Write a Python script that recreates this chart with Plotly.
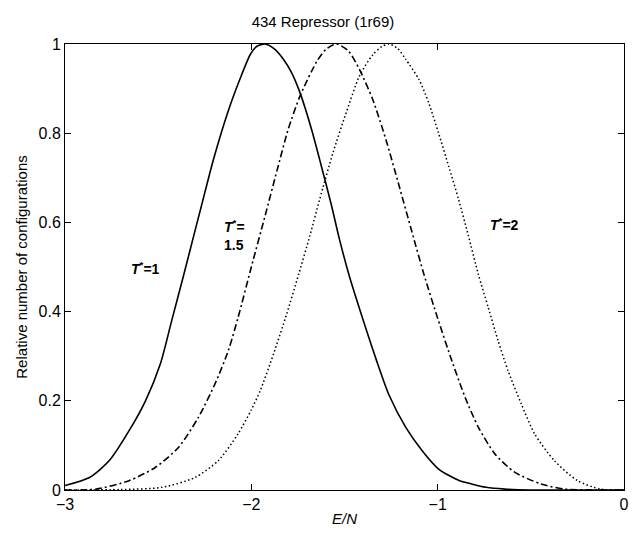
import plotly.graph_objects as go

# Energy per residue (E/N) sample positions and relative counts, one set per temperature
x_t1 = [-3.0, -2.869, -2.762, -2.656, -2.568, -2.488, -2.426, -2.363, -2.30, -2.266, -2.204,
        -2.124, -2.053, -2.005, -1.97, -1.926, -1.88, -1.828, -1.784, -1.739, -1.677, -1.624,
        -1.571, -1.527, -1.473, -1.403, -1.331, -1.261, -1.172, -1.083, -0.995, -0.888,
        -0.818, -0.74, -0.64, -0.5, -0.25, 0.0]
y_t1 = [0.010, 0.028, 0.066, 0.133, 0.200, 0.283, 0.382, 0.482, 0.585, 0.640, 0.740,
        0.850, 0.930, 0.977, 0.995, 1.0, 0.990, 0.966, 0.936, 0.891, 0.809, 0.726,
        0.640, 0.562, 0.478, 0.385, 0.294, 0.213, 0.141, 0.088, 0.047, 0.022,
        0.0135, 0.006, 0.002, 0.0, 0.0, 0.0]

x_t15 = [-3.0, -2.833, -2.656, -2.514, -2.390, -2.284, -2.195, -2.124, -2.071, -2.0,
         -1.926, -1.863, -1.802, -1.739, -1.65, -1.6, -1.544, -1.48, -1.42, -1.349, -1.278,
         -1.207, -1.137, -1.074, -1.0, -0.924, -0.853, -0.782, -0.693, -0.587, -0.445,
         -0.321, -0.15, 0.0]
y_t15 = [0.0, 0.002, 0.021, 0.051, 0.096, 0.163, 0.238, 0.312, 0.387, 0.500,
         0.615, 0.715, 0.809, 0.883, 0.960, 0.988, 1.0, 0.985, 0.943, 0.876, 0.786,
         0.682, 0.577, 0.484, 0.385, 0.290, 0.208, 0.141, 0.081, 0.040, 0.0135,
         0.002, 0.0, 0.0]

x_t2 = [-3.0, -2.7, -2.479, -2.302, -2.177, -2.071, -2.0, -1.952, -1.881, -1.810, -1.745,
        -1.686, -1.633, -1.562, -1.491, -1.420, -1.35, -1.30, -1.261, -1.215, -1.172, -1.101,
        -1.048, -0.995, -0.941, -0.888, -0.835, -0.782, -0.729, -0.676, -0.622, -0.551,
        -0.480, -0.374, -0.250, -0.126, 0.0]
y_t2 = [0.0, 0.001, 0.006, 0.028, 0.066, 0.126, 0.180, 0.223, 0.305, 0.395, 0.485,
        0.570, 0.652, 0.756, 0.846, 0.928, 0.975, 0.994, 1.0, 0.990, 0.966, 0.921,
        0.868, 0.800, 0.726, 0.652, 0.570, 0.484, 0.410, 0.335, 0.267, 0.193,
        0.126, 0.066, 0.021, 0.002, 0.0]

x_ticks = [-3, -2, -1, 0]
x_labels = ["−3", "−2", "−1", "0"]
y_ticks = [0, 0.2, 0.4, 0.6, 0.8, 1]
y_labels = ["0", "0.2", "0.4", "0.6", "0.8", "1"]

FONT = "Liberation Sans, Arial, sans-serif"

fig = go.Figure()
fig.add_trace(go.Scatter(x=x_t1, y=y_t1, mode="lines",
                         line=dict(color="black", width=1.6, dash="solid",
                                   shape="spline", smoothing=0.7)))
fig.add_trace(go.Scatter(x=x_t15, y=y_t15, mode="lines",
                         line=dict(color="black", width=1.6, dash="7px,3px,2px,3px",
                                   shape="spline", smoothing=0.7)))
fig.add_trace(go.Scatter(x=x_t2, y=y_t2, mode="lines",
                         line=dict(color="black", width=1.5, dash="1.5px,2.5px",
                                   shape="spline", smoothing=0.7)))

ann_font = dict(family=FONT, size=14, color="black")
annotations = [
    dict(x=-2.569, y=0.498, text="<b><i>T</i><sup>*</sup>=1</b>", showarrow=False,
         font=ann_font, xanchor="center", yanchor="middle"),
    dict(x=-2.16, y=0.571, text="<b><i>T</i><sup>*</sup>=<br>1.5</b>", showarrow=False,
         font=ann_font, xanchor="left", yanchor="middle", align="left"),
    dict(x=-0.64, y=0.596, text="<b><i>T</i><sup>*</sup>=2</b>", showarrow=False,
         font=ann_font, xanchor="center", yanchor="middle"),
]

axis_common = dict(showline=True, linecolor="black", linewidth=1, mirror="ticks",
                   ticks="inside", ticklen=6, tickcolor="black", tickwidth=1,
                   showgrid=False, zeroline=False,
                   tickfont=dict(family=FONT, size=16, color="black"))

fig.update_layout(
    width=637, height=533,
    paper_bgcolor="white", plot_bgcolor="white",
    showlegend=False,
    margin=dict(l=65, r=8, t=44, b=43),
    title=dict(text="434 Repressor (1r69)", x=0.507, xanchor="center",
               y=1 - 22 / 533, yanchor="middle", yref="container",
               font=dict(family=FONT, size=15, color="black")),
    xaxis=dict(range=[-3, 0], tickvals=x_ticks, ticktext=x_labels,
               title=dict(text="<i>E/N</i>", standoff=1,
                          font=dict(family=FONT, size=15, color="black")),
               **axis_common),
    yaxis=dict(range=[0, 1], tickvals=y_ticks, ticktext=y_labels,
               title=dict(text="Relative number of configurations", standoff=7,
                          font=dict(family=FONT, size=15, color="black")),
               **axis_common),
    annotations=annotations,
)

fig.write_html("out.html")
